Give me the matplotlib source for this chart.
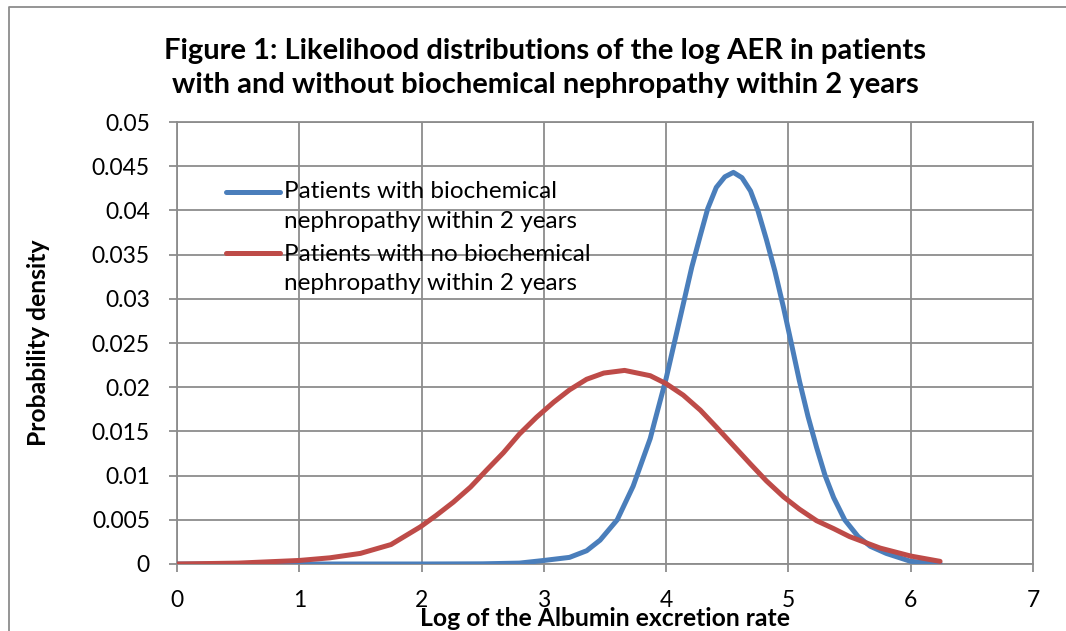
import matplotlib
matplotlib.use("Agg")
import matplotlib.pyplot as plt
from matplotlib.lines import Line2D

# values
x_neph = [0, 1, 2, 2.5, 2.8, 3.0, 3.21, 3.35, 3.46, 3.6, 3.73, 3.87, 3.9, 4.0,
          4.07, 4.14, 4.21, 4.28, 4.34, 4.41, 4.48, 4.55, 4.62, 4.69, 4.75,
          4.82, 4.89, 4.96, 5.02, 5.09, 5.16, 5.23, 5.30, 5.37, 5.46, 5.57,
          5.67, 5.8, 6.0, 6.24]
y_neph = [0, 0, 0, 0.00002, 0.0001, 0.0004, 0.00075, 0.0015, 0.0027, 0.005,
          0.0088, 0.0142, 0.0158, 0.021, 0.0252, 0.0294, 0.0336, 0.0372, 0.0402,
          0.0426, 0.0438, 0.0443, 0.0437, 0.0422, 0.04, 0.0367, 0.0331, 0.029,
          0.0252, 0.0207, 0.0167, 0.0132, 0.01, 0.0075, 0.005, 0.0031, 0.002,
          0.0012, 0.0003, 0.00005]

x_none = [0, 0.5, 1, 1.25, 1.5, 1.75, 1.99, 2.12, 2.26, 2.4, 2.53, 2.67, 2.8,
          2.94, 3.08, 3.21, 3.35, 3.49, 3.66, 3.87, 4.0, 4.14, 4.28, 4.41, 4.55,
          4.69, 4.82, 4.96, 5.09, 5.23, 5.37, 5.5, 5.75, 6.0, 6.24]
y_none = [0, 0.0001, 0.0004, 0.0007, 0.0012, 0.0022, 0.0042, 0.0055, 0.007,
          0.0087, 0.0106, 0.0126, 0.0147, 0.0166, 0.0183, 0.0197, 0.0209,
          0.0216, 0.0219, 0.0213, 0.0204, 0.0191, 0.0174, 0.0155, 0.0134,
          0.0113, 0.0094, 0.0076, 0.0062, 0.0049, 0.004, 0.0031, 0.0018,
          0.0009, 0.0003]

label_neph = "Patients with biochemical\nnephropathy within 2 years"
label_none = "Patients with no biochemical\nnephropathy within 2 years"

xticks = [0, 1, 2, 3, 4, 5, 6, 7]
yticks = [0, 0.005, 0.01, 0.015, 0.02, 0.025, 0.03, 0.035, 0.04, 0.045, 0.05]
ytick_labels = ["0", "0.005", "0.01", "0.015", "0.02", "0.025", "0.03",
                "0.035", "0.04", "0.045", "0.05"]

blue = "#4a7ebb"
red = "#be4b48"
gridc = "#8c8c8c"

plt.rcParams['font.family'] = ['Lato', 'DejaVu Sans']

fig = plt.figure(figsize=(10.66, 6.31), dpi=100)
ax = fig.add_axes([177/1066, 1-564/631, (1033-177)/1066, (564-122)/631])

ax.plot(x_neph, y_neph, color=blue, lw=3.6, solid_capstyle='round',
        solid_joinstyle='round', zorder=3)
ax.plot(x_none, y_none, color=red, lw=3.6, solid_capstyle='round',
        solid_joinstyle='round', zorder=4)

ax.set_xlim(0, 7)
ax.set_ylim(0, 0.05)
ax.set_xticks(xticks)
ax.set_xticklabels([str(t) for t in xticks])
ax.set_yticks(yticks)
ax.set_yticklabels(ytick_labels)
ax.grid(True, color=gridc, lw=1.3)
ax.set_axisbelow(True)
for s in ax.spines.values():
    s.set_color(gridc)
    s.set_linewidth(1.3)
ax.tick_params(axis='both', direction='out', length=6, width=1.3, color=gridc,
               labelsize=16.5, labelcolor='black')
ax.tick_params(axis='y', pad=13.5)
ax.tick_params(axis='x', pad=13)

ax.set_xlabel("Log of the Albumin excretion rate", fontsize=17.8,
              fontweight='bold', labelpad=-3.5)
ax.set_ylabel("Probability density", fontsize=17.8, fontweight='bold',
              labelpad=30)

# legend drawn by hand so the swatch sits on the first text line
ax.plot([0.057, 0.120], [0.842, 0.842], transform=ax.transAxes, color=blue,
        lw=3.6, solid_capstyle='round', clip_on=False)
ax.plot([0.057, 0.120], [0.704, 0.704], transform=ax.transAxes, color=red,
        lw=3.6, solid_capstyle='round', clip_on=False)
ax.text(0.125, 0.809, label_neph, transform=ax.transAxes, fontsize=17.5,
        va='center', ha='left', linespacing=1.5)
ax.text(0.125, 0.667, label_none, transform=ax.transAxes, fontsize=17.5,
        va='center', ha='left', linespacing=1.5)

fig.text(545/1066, 1-68/631, "Figure 1: Likelihood distributions of the log AER in patients\n"
         "with and without biochemical nephropathy within 2 years",
         ha='center', va='center', fontsize=21, fontweight='bold', linespacing=1.4)

# outer chart frame
fig.add_artist(Line2D([9/1066, 9/1066, 1.0], [0.0, 1-7/631, 1-7/631],
                      transform=fig.transFigure, color="#8c8c8c", lw=1.3))

fig.savefig("out.png", dpi=100)
